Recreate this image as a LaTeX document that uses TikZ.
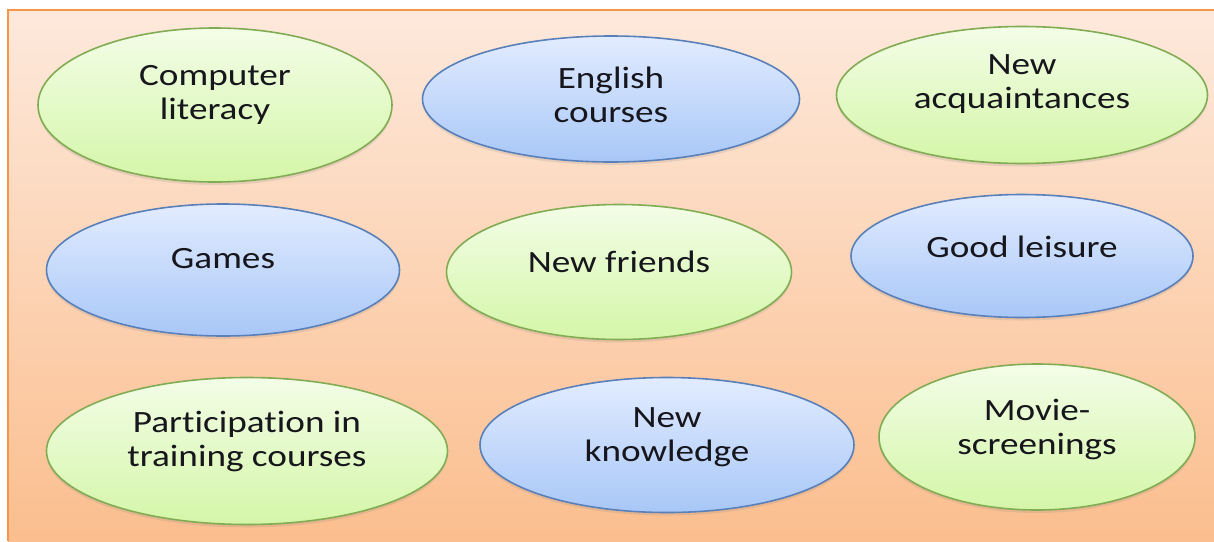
\documentclass[tikz,border=0pt]{standalone}
\usepackage{fontspec}
\setmainfont{Carlito}[FakeStretch=1.2, Ligatures=NoCommon]
\usepackage{tikz}
\usetikzlibrary{shapes, shadows}

\definecolor{fondhaut}{RGB}{253,233,220}
\definecolor{fondbas}{RGB}{251,190,142}
\definecolor{bordorange}{RGB}{247,150,70}
\definecolor{vertclair}{RGB}{243,253,231}
\definecolor{vertfonce}{RGB}{212,246,168}
\definecolor{vertbord}{RGB}{130,172,84}
\definecolor{bleuclair}{RGB}{226,236,255}
\definecolor{bleufonce}{RGB}{168,199,247}
\definecolor{bleubord}{RGB}{90,128,186}
\definecolor{texte}{RGB}{22,22,28}

\tikzset{
    ovale/.style={ellipse, inner sep=0pt, line width=0.8pt,
        drop shadow={shadow xshift=0pt, shadow yshift=-1.5pt, opacity=0.18}},
    ovalevert/.style={ovale, draw=vertbord, top color=vertclair, bottom color=vertfonce},
    ovalebleu/.style={ovale, draw=bleubord, top color=bleuclair, bottom color=bleufonce},
    etiquette/.style={align=center, text=texte, font=\fontsize{15.5}{17}\selectfont}
}

\begin{document}
\begin{tikzpicture}[x=0.5pt, y=-0.5pt]
            \useasboundingbox (0,0) rectangle (1214,541);
            % Fond dégradé orange avec bordure
            \shade[top color=fondhaut, bottom color=fondbas] (8,10) rectangle (1214,541);
            \draw[bordorange, line width=0.75pt] (8,541) -- (8,10) -- (1214,10);
            % Première rangée
            \node[ovalevert, minimum width=177pt, minimum height=77pt] (informatique) at (215,105) {};
            \node[etiquette] (txtinformatique) at ([yshift=5pt]informatique.center) {Computer\\literacy};
            \node[ovalebleu, minimum width=188.5pt, minimum height=63pt] (anglais) at (611,99) {};
            \node[etiquette] (txtanglais) at ([yshift=2pt]anglais.center) {English\\courses};
            \node[ovalevert, minimum width=185.5pt, minimum height=68.5pt] (connaissances) at (1022,95) {};
            \node[etiquette] (txtconnaissances) at ([yshift=5.25pt]connaissances.center) {New\\acquaintances};
            % Deuxième rangée
            \node[ovalebleu, minimum width=176.5pt, minimum height=66pt] (jeux) at (223,270) {};
            \node[etiquette] (txtjeux) at ([yshift=5.5pt]jeux.center) {Games};
            \node[ovalevert, minimum width=172.5pt, minimum height=67.5pt] (amis) at (619,272) {};
            \node[etiquette] (txtamis) at ([yshift=5pt]amis.center) {New friends};
            \node[ovalebleu, minimum width=171pt, minimum height=61.5pt] (loisirs) at (1022,256) {};
            \node[etiquette] (txtloisirs) at ([yshift=4.5pt]loisirs.center) {Good leisure};
            % Troisième rangée
            \node[ovalevert, minimum width=200.5pt, minimum height=73.5pt] (formation) at (247,451) {};
            \node[etiquette] (txtformation) at ([yshift=4.75pt]formation.center) {Participation in\\training courses};
            \node[ovalebleu, minimum width=187pt, minimum height=67.5pt] (savoir) at (667,445) {};
            \node[etiquette] (txtsavoir) at ([yshift=3.75pt]savoir.center) {New\\knowledge};
            \node[ovalevert, minimum width=158pt, minimum height=73pt] (cinema) at (1037,437) {};
            \node[etiquette] (txtcinema) at ([yshift=4pt]cinema.center) {Movie-\\screenings};
        \end{tikzpicture}
\end{document}
